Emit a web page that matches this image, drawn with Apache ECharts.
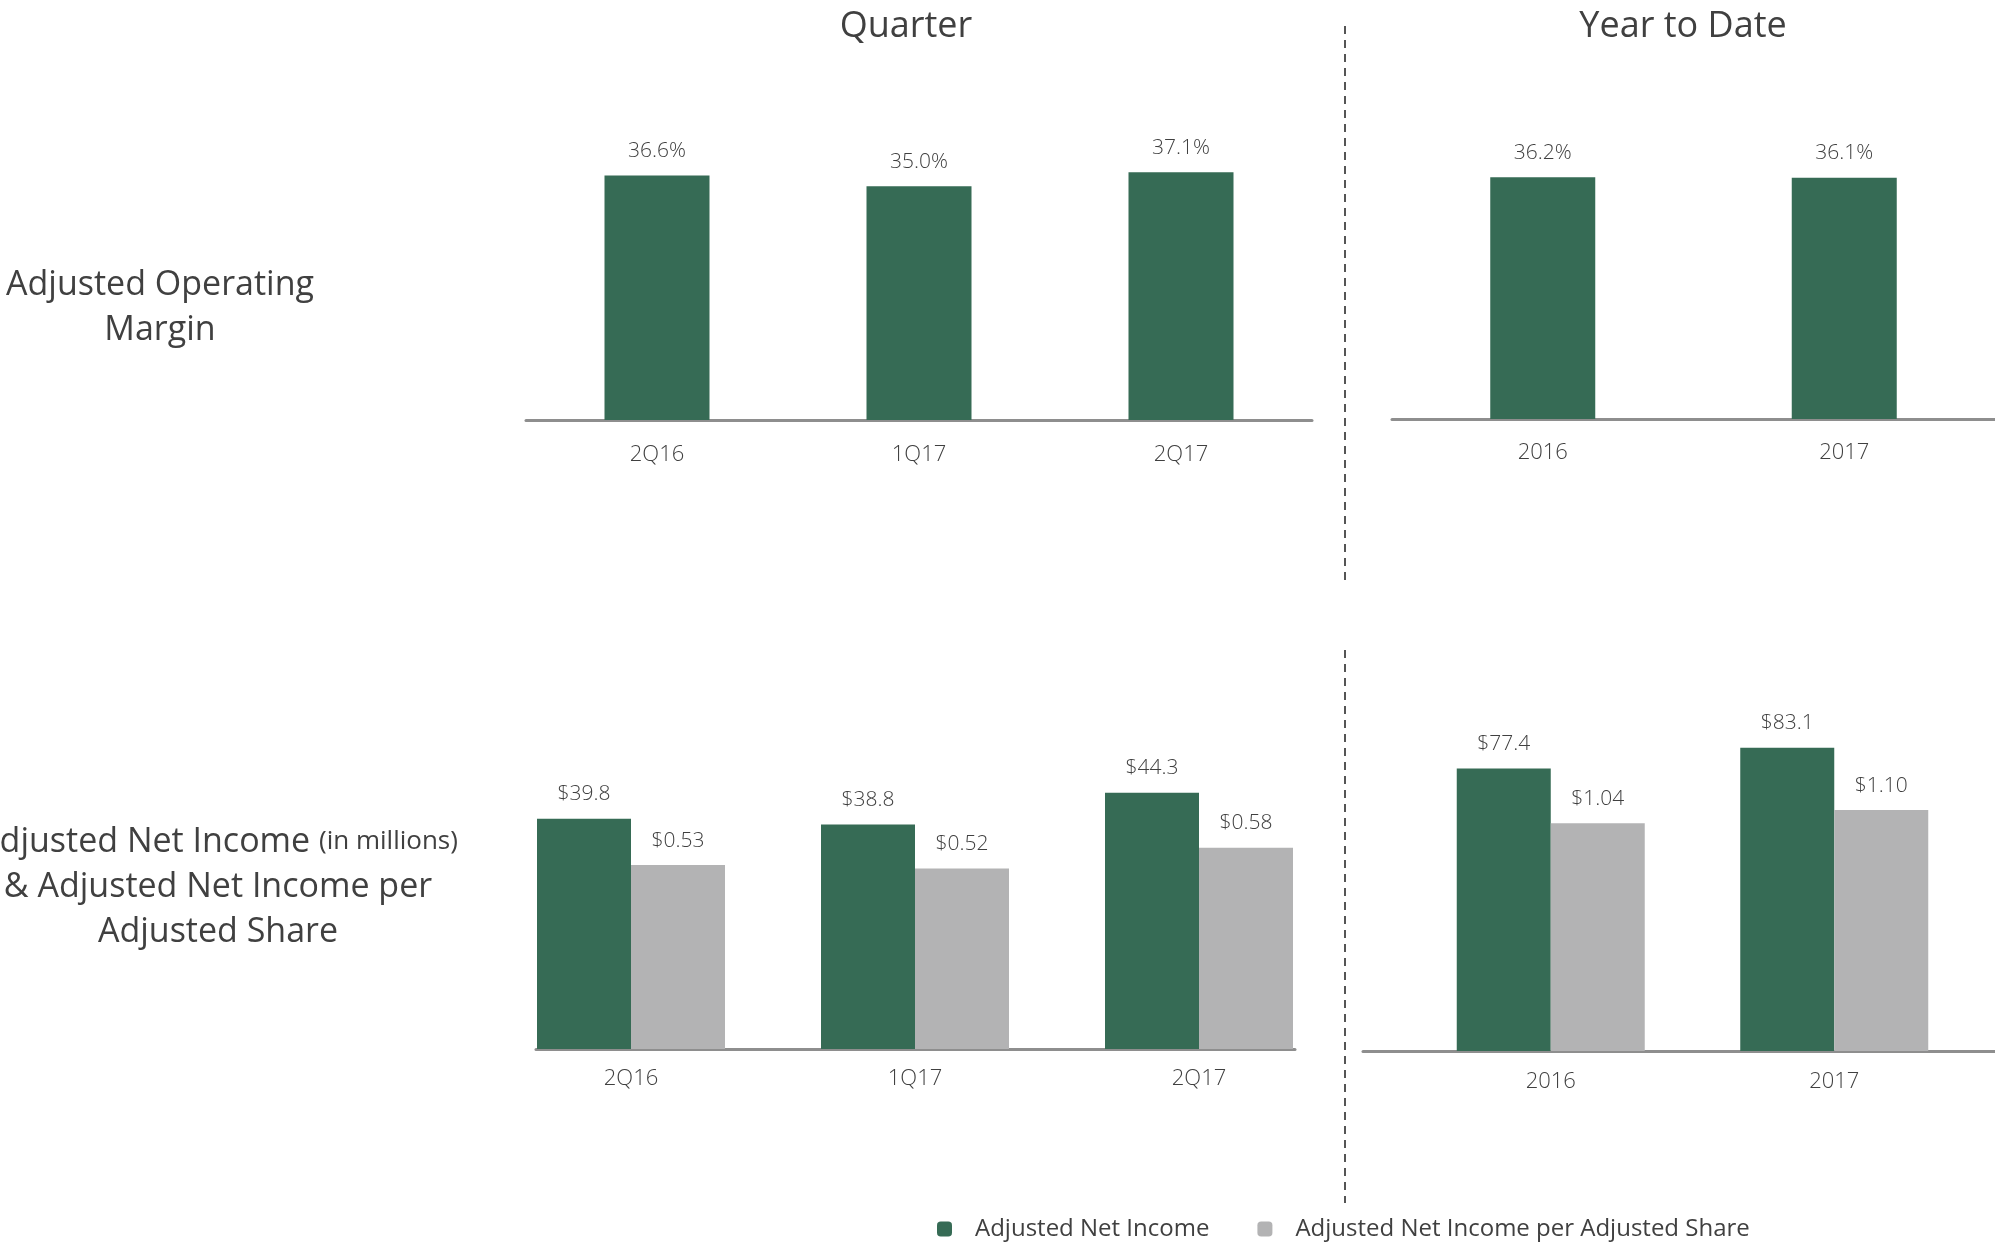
<!DOCTYPE html>
<html>
<head>
<meta charset="utf-8">
<title>Adjusted Operating Margin and Adjusted Net Income</title>
<script src="https://cdn.jsdelivr.net/npm/echarts@6/dist/echarts.min.js"></script>
<style>
  html, body { margin: 0; padding: 0; background: #ffffff; }
  #chart { width: 1995px; height: 1243px; }
</style>
</head>
<body>
<div id="chart"></div>
<script>
// Categories
const quarterCats = ['2Q16', '1Q17', '2Q17'];
const ytdCats = ['2016', '2017'];

// Adjusted operating margin (%)
const marginQuarter = [36.6, 35.0, 37.1];
const marginYtd = [36.2, 36.1];

// Adjusted net income ($ millions) and per adjusted share ($)
const netIncomeQuarter = [39.8, 38.8, 44.3];
const perShareQuarter = [0.53, 0.52, 0.58];
const netIncomeYtd = [77.4, 83.1];
const perShareYtd = [1.04, 1.10];

const legendNames = ['Adjusted Net Income', 'Adjusted Net Income per Adjusted Share'];

const GREEN = '#366b55';
const GREY = '#b3b3b4';
const TEXT = '#404040';
const FONT = '"Open Sans", "Noto Sans", sans-serif';

const chart = echarts.init(document.getElementById('chart'), null, { renderer: 'canvas' });

function catAxis(gridIndex, data, showLine, margin) {
  return {
    type: 'category', gridIndex, data,
    axisLine: { show: showLine, lineStyle: { color: '#8e8e8e', width: 3 } },
    axisTick: { show: false },
    axisLabel: { color: TEXT, fontSize: 22, fontFamily: FONT, fontWeight: 300, margin }
  };
}
function hiddenY(gridIndex, max) {
  return { type: 'value', gridIndex, min: 0, max, show: false, splitLine: { show: false } };
}
function baselineX(gridIndex) {
  return {
    type: 'value', gridIndex, min: 0, max: 1,
    axisLine: { show: true, onZero: false, lineStyle: { color: '#8e8e8e', width: 3 } },
    axisTick: { show: false }, axisLabel: { show: false }, splitLine: { show: false }
  };
}
function valueLabel(fmt) {
  return {
    show: true, position: 'top', distance: 14,
    color: TEXT, fontSize: 21, fontFamily: FONT, fontWeight: 300,
    formatter: p => fmt(p.value)
  };
}
const pct = v => v.toFixed(1) + '%';
const usd1 = v => '$' + v.toFixed(1);
const usd2 = v => '$' + v.toFixed(2);

const option = {
  backgroundColor: '#ffffff',
  animation: false,
  textStyle: { fontFamily: FONT },
  grid: [
    { left: 526, top: 86, width: 786, height: 334 },   // quarter margin
    { left: 1392, top: 85, width: 603, height: 334 },  // YTD margin
    { left: 489, top: 702, width: 852, height: 347 },  // quarter net income
    { left: 1409, top: 686, width: 567, height: 365 }, // YTD net income
    { left: 536, top: 1039, width: 759, height: 10 },  // quarter baseline
    { left: 1363, top: 1041, width: 632, height: 10 }  // YTD baseline
  ],
  xAxis: [
    catAxis(0, quarterCats, true, 24),
    catAxis(1, ytdCats, true, 23),
    catAxis(2, quarterCats, false, 19),
    catAxis(3, ytdCats, false, 20),
    baselineX(4),
    baselineX(5)
  ],
  yAxis: [
    hiddenY(0, 50),
    hiddenY(1, 50),
    hiddenY(2, 60),
    hiddenY(2, 1),
    hiddenY(3, 100),
    hiddenY(3, 100 / 60),
    hiddenY(4, 1),
    hiddenY(5, 1)
  ],
  legend: {
    data: legendNames,
    left: 932, top: 1212,
    icon: 'roundRect', itemWidth: 15, itemHeight: 15, itemGap: 48,
    selectedMode: false,
    textStyle: { color: TEXT, fontSize: 24, fontFamily: FONT, padding: [0, 0, 0, 18] }
  },
  series: [
    {
      name: 'Adjusted Operating Margin', type: 'bar', xAxisIndex: 0, yAxisIndex: 0,
      data: marginQuarter, barWidth: 105, itemStyle: { color: GREEN }, label: valueLabel(pct)
    },
    {
      name: 'Adjusted Operating Margin YTD', type: 'bar', xAxisIndex: 1, yAxisIndex: 1,
      data: marginYtd, barWidth: 105, itemStyle: { color: GREEN }, label: valueLabel(pct)
    },
    {
      name: legendNames[0], type: 'bar', xAxisIndex: 2, yAxisIndex: 2,
      data: netIncomeQuarter, barWidth: 94, barGap: '0%', itemStyle: { color: GREEN }, label: valueLabel(usd1)
    },
    {
      name: legendNames[1], type: 'bar', xAxisIndex: 2, yAxisIndex: 3,
      data: perShareQuarter, barWidth: 94, barGap: '0%', itemStyle: { color: GREY }, label: valueLabel(usd2)
    },
    {
      name: legendNames[0], type: 'bar', xAxisIndex: 3, yAxisIndex: 4,
      data: netIncomeYtd, barWidth: 94, barGap: '0%', itemStyle: { color: GREEN }, label: valueLabel(usd1)
    },
    {
      name: legendNames[1], type: 'bar', xAxisIndex: 3, yAxisIndex: 5,
      data: perShareYtd, barWidth: 94, barGap: '0%', itemStyle: { color: GREY }, label: valueLabel(usd2)
    }
  ],
  graphic: [
    // column headings
    { type: 'text', x: 906, y: 27, style: { text: 'Quarter', fill: TEXT, font: '36px ' + FONT, align: 'center', verticalAlign: 'middle' } },
    { type: 'text', x: 1683, y: 27, style: { text: 'Year to Date', fill: TEXT, font: '36px ' + FONT, align: 'center', verticalAlign: 'middle' } },
    // row headings
    {
      type: 'text', x: 160, y: 308,
      style: { text: 'Adjusted Operating\nMargin', fill: TEXT, font: '34px ' + FONT, lineHeight: 45, align: 'center', verticalAlign: 'middle' }
    },
    {
      type: 'text', x: 218, y: 887,
      style: {
        text: '{a|Adjusted Net Income }{b|(in millions)}\n{a|& Adjusted Net Income per}\n{a|Adjusted Share}',
        align: 'center', verticalAlign: 'middle',
        rich: {
          a: { fill: TEXT, fontSize: 34, fontFamily: FONT, lineHeight: 45 },
          b: { fill: TEXT, fontSize: 26, fontFamily: FONT, lineHeight: 45 }
        }
      }
    },
    // dashed dividers between the quarter and year-to-date columns
    { type: 'line', shape: { x1: 1345, y1: 26, x2: 1345, y2: 580 }, style: { stroke: '#555555', lineWidth: 2, lineDash: [8, 6] } },
    { type: 'line', shape: { x1: 1345, y1: 650, x2: 1345, y2: 1203 }, style: { stroke: '#555555', lineWidth: 2, lineDash: [8, 6] } }
  ]
};

chart.setOption(option);
</script>
</body>
</html>
